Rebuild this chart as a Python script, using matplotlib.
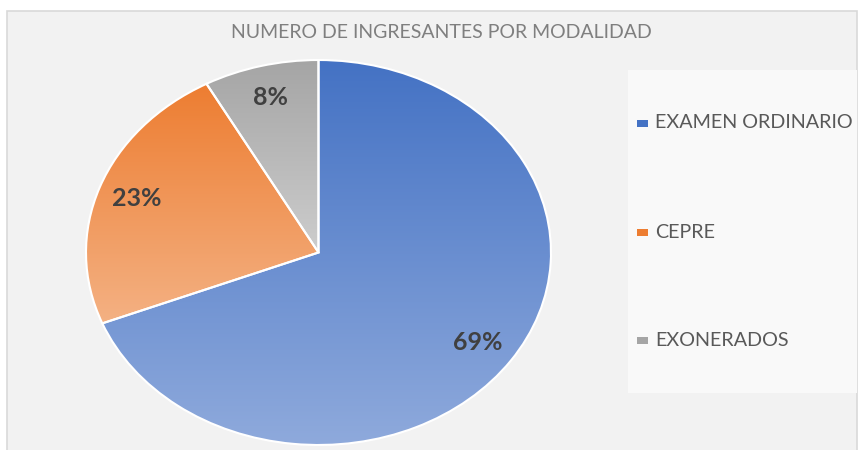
import matplotlib
matplotlib.use("Agg")
import matplotlib.pyplot as plt
import numpy as np
from matplotlib.colors import LinearSegmentedColormap
from matplotlib.patches import Rectangle

plt.rcParams['font.family'] = ['Lato', 'DejaVu Sans']

title = "NUMERO DE INGRESANTES POR MODALIDAD"
categories = ["EXAMEN ORDINARIO", "CEPRE", "EXONERADOS"]
values = [69, 23, 8]
top_colors = ["#4472C4", "#ED7D31", "#A5A5A5"]
bottom_colors = ["#8FAADC", "#F4B183", "#CDCDCD"]

W, H = 859, 450
fig = plt.figure(figsize=(W / 100, H / 100), dpi=100)
fig.patch.set_facecolor("white")

# chart area background with border
bg = fig.add_axes([0, 0, 1, 1])
bg.set_xlim(0, W)
bg.set_ylim(H, 0)
bg.axis("off")
bg.add_patch(Rectangle((7, 11), 850, 450, facecolor="#F2F2F2",
                       edgecolor="#D9D9D9", linewidth=1.2))
# legend box
bg.add_patch(Rectangle((628, 70), 229, 323, facecolor="#F9F9F9",
                       edgecolor="none"))

# pie axes (elliptical)
ax = fig.add_axes([86 / W, (H - 445) / H, 465 / W, 385 / H])
wedges, texts, autotexts = ax.pie(
    values, startangle=90, counterclock=False, radius=1.0,
    autopct='%1.0f%%', pctdistance=0.83,
    wedgeprops=dict(edgecolor="white", linewidth=1.5),
    textprops=dict(color="#404040", fontsize=18, fontweight="bold"))
ax.set_aspect("auto")
ax.set_xlim(-1, 1)
ax.set_ylim(-1, 1)
ax.axis("off")

for w, c1, c2 in zip(wedges, top_colors, bottom_colors):
    w.set_facecolor("none")
    verts = w.get_path().vertices
    tr = w.get_patch_transform()
    pts = tr.transform(verts)
    x0, x1 = pts[:, 0].min(), pts[:, 0].max()
    y0, y1 = pts[:, 1].min(), pts[:, 1].max()
    cmap = LinearSegmentedColormap.from_list("g", [c1, c2])
    grad = np.linspace(1, 0, 256).reshape(-1, 1)
    im = ax.imshow(grad, cmap=cmap, vmin=0, vmax=1, extent=[x0, x1, y0, y1],
                   origin="lower", aspect="auto", zorder=0.5,
                   interpolation="bilinear")
    im.set_clip_path(w)
    w.set_zorder(1)

for t in autotexts:
    t.set_zorder(3)
ax.set_xlim(-1, 1)
ax.set_ylim(-1, 1)

# title
fig.text(441 / W, 1 - 33 / H, title, ha="center", va="center",
         fontsize=14, color="#7F7F7F")

# legend
leg_y = [123, 232, 340]
for cat, c1, c2, y in zip(categories, top_colors, bottom_colors, leg_y):
    bg.add_patch(Rectangle((637, y - 3.5), 11, 7, facecolor=c1,
                           edgecolor="none"))
    bg.text(655, y, cat, ha="left", va="center", fontsize=14.2,
            color="#595959")

fig.savefig("out.png", dpi=100, facecolor=fig.get_facecolor())
